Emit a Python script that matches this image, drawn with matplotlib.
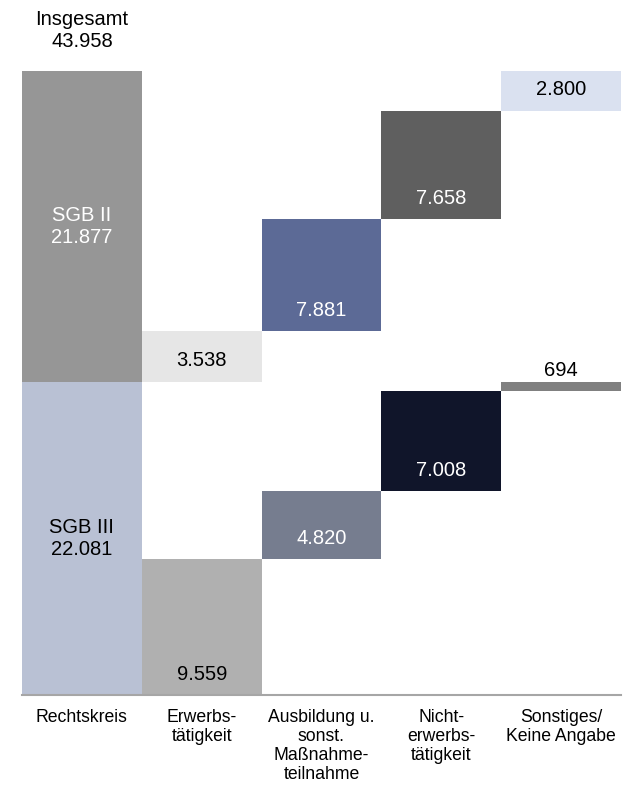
import numpy as np
import matplotlib
matplotlib.use("Agg")
import matplotlib.pyplot as plt

plt.rcParams["font.family"] = ["Liberation Sans", "DejaVu Sans"]

# Daten
categories = ["Rechtskreis", "Erwerbs-\ntätigkeit",
              "Ausbildung u.\nsonst.\nMaßnahme-\nteilnahme",
              "Nicht-\nerwerbs-\ntätigkeit", "Sonstiges/\nKeine Angabe"]
sgb3 = [22081, 9559, 4820, 7008, 694]
sgb2 = [21877, 3538, 7881, 7658, 2800]
total = 43958

# Farben
colors3 = ["#b9c1d4", "#b0b0b0", "#767d8f", "#10152a", "#808080"]
colors2 = ["#969696", "#e6e6e6", "#5c6a96", "#5f5f5f", "#dae1f0"]
text3 = ["black", "black", "white", "white", "black"]
text2 = ["white", "black", "white", "white", "black"]


def fmt(v):
    return f"{v:,}".replace(",", ".")


def main():
    x = np.arange(len(categories))

    # Startpunkte der Segmente (Wasserfall)
    bottom3 = [0, 0] + list(np.cumsum(sgb3[1:-1]))
    bottom2 = [sgb3[0], sgb3[0]] + list(sgb3[0] + np.cumsum(sgb2[1:-1]))

    fig = plt.figure(figsize=(6.25, 7.92), dpi=100)
    ax = fig.add_axes([0.0352, 0.1225, 0.9584, 0.7879])

    ax.bar(x, sgb3, width=1.0, bottom=bottom3, color=colors3, linewidth=0)
    ax.bar(x, sgb2, width=1.0, bottom=bottom2, color=colors2, linewidth=0)

    fs = 14.5
    # Rechtskreis: zentrierte Beschriftung
    ax.text(x[0], bottom3[0] + sgb3[0] / 2, "SGB III\n" + fmt(sgb3[0]),
            ha="center", va="center", fontsize=fs, color=text3[0], linespacing=1.2)
    ax.text(x[0], bottom2[0] + sgb2[0] / 2, "SGB II\n" + fmt(sgb2[0]),
            ha="center", va="center", fontsize=fs, color=text2[0], linespacing=1.2)
    ax.annotate("Insgesamt\n" + fmt(total), (x[0], total), xytext=(0, 29),
                textcoords="offset points", ha="center", va="center",
                fontsize=fs, linespacing=1.2, annotation_clip=False)

    # übrige Segmente: Beschriftung nahe der Basis
    for i in range(1, len(categories)):
        if i == len(categories) - 1:
            ax.annotate(fmt(sgb3[i]), (x[i], bottom3[i] + sgb3[i]), xytext=(0, 8),
                        textcoords="offset points", ha="center", va="center",
                        fontsize=fs, color="black")
        else:
            ax.annotate(fmt(sgb3[i]), (x[i], bottom3[i]), xytext=(0, 15),
                        textcoords="offset points", ha="center", va="center",
                        fontsize=fs, color=text3[i])
        ax.annotate(fmt(sgb2[i]), (x[i], bottom2[i]), xytext=(0, 15),
                    textcoords="offset points", ha="center", va="center",
                    fontsize=fs, color=text2[i])

    ax.set_xlim(-0.5, len(categories) - 0.5)
    ax.set_ylim(0, total)
    ax.set_xticks(x)
    ax.set_xticklabels(categories, fontsize=12.7, linespacing=1.17, va="top")
    ax.tick_params(axis="x", length=0, pad=10)
    ax.set_yticks([])
    for s in ["top", "left", "right"]:
        ax.spines[s].set_visible(False)
    ax.spines["bottom"].set_color("#a6a6a6")
    ax.spines["bottom"].set_linewidth(1.5)

    fig.savefig("out.png", dpi=100)


if __name__ == "__main__":
    main()
